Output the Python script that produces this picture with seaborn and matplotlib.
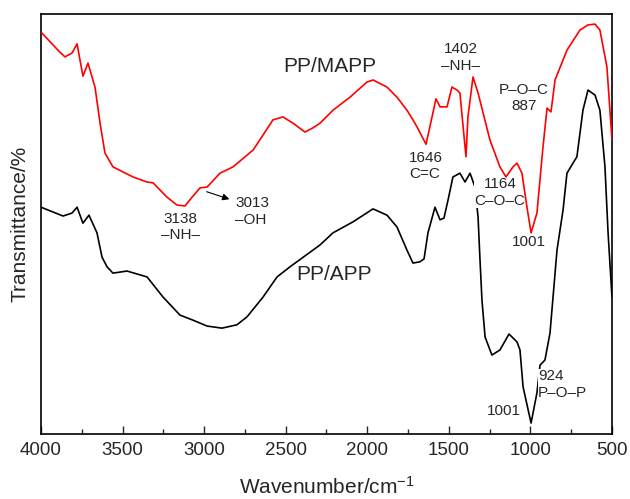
import matplotlib
matplotlib.use("Agg")
import matplotlib.pyplot as plt
import numpy as np
import pandas as pd
import seaborn as sns
from matplotlib.ticker import MultipleLocator

# FTIR spectra (wavenumber in cm-1, transmittance in arbitrary %)
mapp_wn = [4000, 3884, 3853, 3810, 3779, 3743, 3712, 3669, 3638, 3608, 3559, 3436, 3350, 3313,
           3228, 3166, 3117, 3074, 3025, 2982, 2903, 2823, 2700, 2578, 2517, 2455, 2382, 2333,
           2290, 2210, 2106, 2002, 1965, 1879, 1818, 1757, 1720, 1695, 1640, 1603, 1579, 1554,
           1511, 1481, 1450, 1432, 1395, 1383, 1352, 1321, 1248, 1187, 1150, 1107, 1082, 1052,
           1021, 996, 960, 923, 898, 874, 849, 776, 696, 647, 604, 574, 531, 500]
mapp_t = [95.7, 90.9, 89.8, 90.7, 92.9, 85.2, 88.3, 82.6, 74.0, 66.9, 63.6, 61.2, 60.0, 59.8,
          56.4, 54.5, 54.3, 56.4, 58.6, 58.8, 62.1, 63.6, 67.6, 74.8, 75.5, 74.0, 71.9, 72.9,
          74.0, 77.1, 80.2, 83.8, 84.3, 82.6, 80.2, 77.1, 74.8, 73.1, 69.0, 75.5, 79.8, 77.9,
          77.9, 82.6, 81.9, 81.2, 66.0, 75.5, 85.0, 81.2, 70.0, 63.6, 61.2, 63.6, 64.5, 62.1,
          54.0, 47.9, 52.6, 68.3, 77.6, 76.7, 84.3, 91.4, 96.2, 97.4, 97.6, 96.2, 87.4, 70.0]

app_wn = [4000, 3865, 3810, 3779, 3743, 3706, 3657, 3626, 3595, 3559, 3473, 3350, 3252, 3148,
          3068, 2982, 2891, 2799, 2737, 2639, 2553, 2474, 2290, 2210, 2088, 1965, 1879, 1818,
          1757, 1720, 1677, 1652, 1628, 1585, 1554, 1530, 1505, 1475, 1432, 1401, 1370, 1340,
          1321, 1309, 1297, 1278, 1236, 1187, 1131, 1082, 1064, 1045, 996, 960, 941, 911, 880,
          837, 800, 776, 739, 715, 678, 647, 604, 574, 543, 524, 500]
app_t = [54.0, 51.9, 52.6, 54.0, 50.2, 52.1, 47.9, 42.1, 39.8, 38.3, 38.8, 37.4, 32.6, 28.3,
         27.1, 25.7, 25.2, 26.0, 27.9, 32.6, 37.4, 39.8, 45.0, 47.9, 50.5, 53.6, 52.1, 49.3,
         43.8, 40.7, 41.0, 41.7, 47.9, 54.0, 51.0, 51.4, 55.7, 61.2, 62.1, 60.0, 62.1, 58.8,
         51.7, 41.4, 31.9, 23.1, 18.8, 20.0, 23.8, 21.9, 20.0, 11.2, 2.6, 9.8, 16.4, 17.6, 24.0,
         43.8, 53.3, 62.1, 64.5, 66.0, 77.1, 81.9, 80.7, 77.1, 63.6, 47.9, 32.6]

# peak annotations: text, wavenumber, transmittance, horizontal alignment
peak_text = ["3138\n\u2013NH\u2013", "3013\n\u2013OH", "1402\n\u2013NH\u2013", "1646\nC=C",
             "P\u2013O\u2013C\n887", "1164\nC\u2013O\u2013C", "1001", "924\nP\u2013O\u2013P", "1001"]
peak_x = [3148, 2811, 1426, 1744, 1039, 1187, 1009, 953, 1165]
peak_y = [49.3, 52.9, 89.6, 63.8, 80.0, 57.5, 45.6, 11.7, 5.5]
peak_ha = ["center", "left", "center", "left", "center", "center", "center", "left", "center"]
peak_box = [False, False, False, False, False, True, False, True, False]

sns.set_style("ticks")
plt.rcParams["font.family"] = ["Liberation Sans", "DejaVu Sans"]
plt.rcParams["mathtext.fontset"] = "custom"
plt.rcParams["mathtext.rm"] = "Liberation Sans"

df = pd.concat([
    pd.DataFrame({"wn": mapp_wn, "t": mapp_t, "sample": "PP/MAPP"}),
    pd.DataFrame({"wn": app_wn, "t": app_t, "sample": "PP/APP"}),
])

fig = plt.figure(figsize=(6.3, 4.99), dpi=100)
ax = fig.add_axes([0.0651, 0.1303, 0.9063, 0.8416])

sns.lineplot(data=df, x="wn", y="t", hue="sample", palette={"PP/MAPP": "#ff0000", "PP/APP": "black"},
             estimator=None, linewidth=1.2, legend=False, ax=ax)
# red spectrum sits above the label boxes, black one below
for ln in ax.lines:
    if ln.get_color() in ("#ff0000", "red"):
        ln.set_zorder(4)

ax.set_xlim(4000, 500)
ax.set_ylim(0, 100)
ax.set_yticks([])
ax.xaxis.set_major_locator(MultipleLocator(500))
ax.xaxis.set_minor_locator(MultipleLocator(250))
ax.tick_params(axis="x", which="major", direction="in", length=5.5, width=1, labelsize=13.5, pad=6)
ax.tick_params(axis="x", which="minor", direction="in", length=3.5, width=1)
for s in ax.spines.values():
    s.set_linewidth(1.2)
    s.set_color("black")

ax.set_xlabel("Wavenumber/cm$\\mathregular{^{-1}}$", fontsize=15, labelpad=12)
ax.set_ylabel("Transmittance/%", fontsize=15, labelpad=8)

ax.text(2229, 87.6, "PP/MAPP", fontsize=15, ha="center", va="center")
ax.text(2204, 38.0, "PP/APP", fontsize=15, ha="center", va="center")

for txt, x, y, ha, box in zip(peak_text, peak_x, peak_y, peak_ha, peak_box):
    bb = dict(facecolor="white", edgecolor="none", pad=0.3) if box else None
    ax.text(x, y, txt, fontsize=11, ha=ha, va="center", linespacing=1.25, bbox=bb, zorder=3)

ax.annotate("", xy=(2829, 55.7), xytext=(3001, 57.9),
            arrowprops=dict(arrowstyle="-|>", color="black", lw=0.8, mutation_scale=10))

plt.savefig("out.png", dpi=100)
